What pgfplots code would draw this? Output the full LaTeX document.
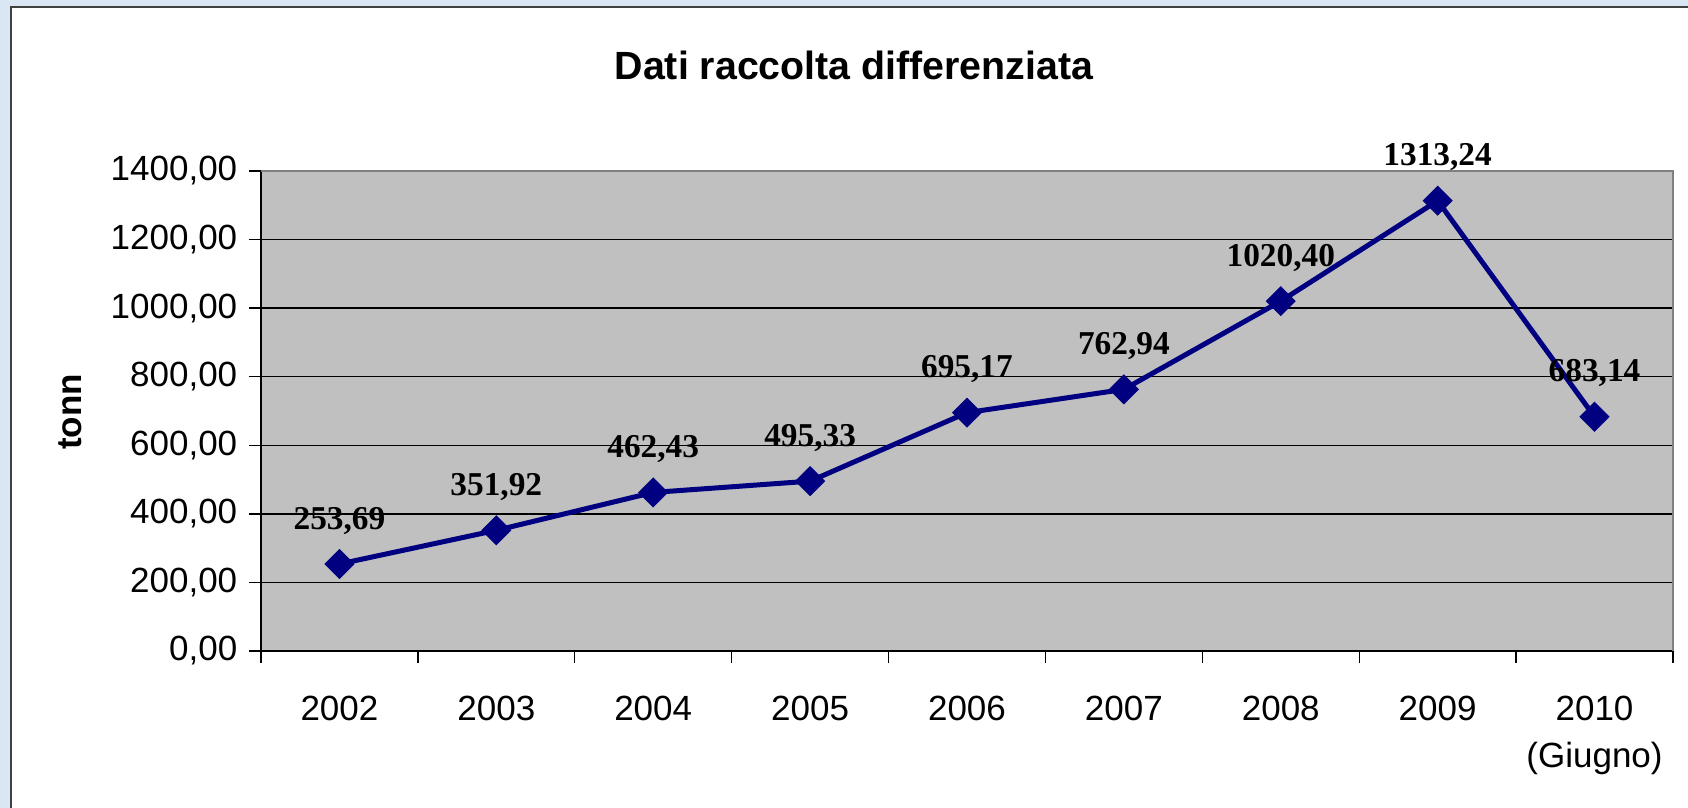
\documentclass[border=0pt]{standalone}
\usepackage{fontspec}
\setmainfont{Liberation Sans}
\newfontfamily\serifb{Liberation Serif}
\usepackage{pgfplots}
\pgfplotsset{compat=1.18}
\definecolor{bgblue}{HTML}{D9E6F3}
\definecolor{navyline}{HTML}{000080}
\definecolor{plotgray}{HTML}{C0C0C0}
\definecolor{bordergray}{HTML}{808080}
\begin{document}
\begin{tikzpicture}
\fill[bgblue] (0,0) rectangle (506.4pt,242.4pt);
\fill[white] (3.3pt,0) rectangle (506.4pt,240.3pt);
\draw[line width=0.7pt,black!75] (3.3pt,0) -- (3.3pt,240.3pt) -- (506.4pt,240.3pt);
\node[anchor=base,font=\fontsize{11.8}{13}\selectfont\bfseries] at (256.2pt,218.4pt) {Dati raccolta differenziata};
\node[rotate=90,font=\fontsize{10.5}{12}\selectfont\bfseries] at (21pt,118.8pt) {tonn};
\begin{axis}[
  at={(78.3pt,47.1pt)}, anchor=south west,
  scale only axis, width=423.6pt, height=144pt,
  xmin=-0.5, xmax=8.5, ymin=0, ymax=1400,
  axis background/.style={fill=plotgray},
  axis lines=left, axis line style={-, black, line width=0.4pt},
  clip=false,
  ytick={0,200,...,1400},
  ymajorgrids, grid style={black, line width=0.4pt},
  xtick={0,...,8},
  xticklabels={2002,2003,2004,2005,2006,2007,2008,2009,{2010\\(Giugno)}},
  minor xtick={-0.5,0.5,...,8.5},
  major x tick style={draw=none},
  tick align=outside, major tick length=3.6pt, minor tick length=3.6pt,
  tick style={black, line width=0.4pt},
  xticklabel style={align=center, font=\fontsize{10.5}{14}\selectfont, yshift=-6.5pt},
  yticklabel style={font=\fontsize{10.5}{12}\selectfont},
  /pgf/number format/assume math mode=true,
  yticklabel={\pgfmathprintnumber[fixed,fixed zerofill,precision=2,use comma,1000 sep={}]{\tick}},
  nodes near coords,
  point meta=explicit symbolic,
  nodes near coords style={anchor=base, yshift=10.5pt, font=\serifb\fontsize{10}{11}\selectfont\bfseries, text=black},
]
\addplot[navyline, line width=1.5pt, mark=square*, mark size=3pt, mark options={rotate=45, fill=navyline, draw=navyline, line width=0.4pt}]
  table[meta=lab] {
x y lab
0 253.69 253,69
1 351.92 351,92
2 462.43 462,43
3 495.33 495,33
4 695.17 695,17
5 762.94 762,94
6 1020.40 1020,40
7 1313.24 1313,24
8 683.14 683,14
};
\draw[bordergray, line width=0.6pt] (rel axis cs:0,1) -- (rel axis cs:1,1) -- (rel axis cs:1,0);
\end{axis}
\pgfresetboundingbox
\useasboundingbox (0,0) rectangle (506.4pt,242.4pt);
\end{tikzpicture}
\end{document}
